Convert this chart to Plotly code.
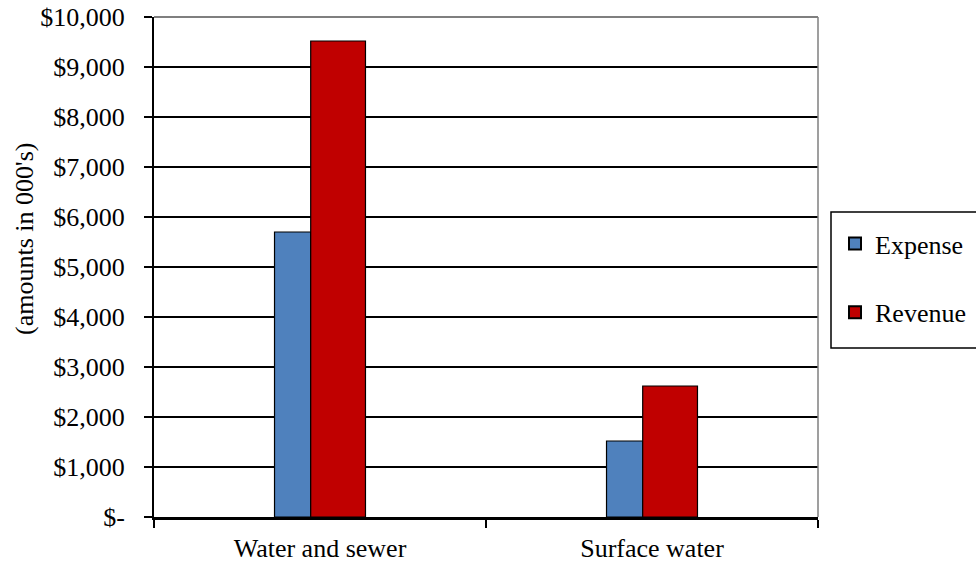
import plotly.graph_objects as go

categories = ["Water and sewer", "Surface water"]
expense = [5700, 1520]
revenue = [9520, 2620]
tick_vals = [0, 1000, 2000, 3000, 4000, 5000, 6000, 7000, 8000, 9000, 10000]
tick_text = ["$-", "$1,000", "$2,000", "$3,000", "$4,000", "$5,000",
             "$6,000", "$7,000", "$8,000", "$9,000", "$10,000"]
y_title = "(amounts in 000's)"

FONT = "Liberation Serif, Times New Roman, serif"
FS = 26

fig = go.Figure()
fig.add_trace(go.Bar(
    x=categories, y=expense, name="Expense",
    marker=dict(color="#4F81BD", line=dict(color="black", width=1.2)),
    width=0.109, offset=-0.137, legendgroup="e",
))
fig.add_trace(go.Bar(
    x=categories, y=revenue, name="Revenue",
    marker=dict(color="#C00000", line=dict(color="black", width=1.2)),
    width=0.165, offset=-0.028, legendgroup="r",
))

W, H = 976, 563
L, T, PW, PH = 154, 17, 664, 500


def px(xs):
    return (xs - L) / PW


def py(ys):
    return (T + PH - ys) / PH


fig.update_layout(
    width=W, height=H,
    margin=dict(l=L, r=W - L - PW, t=T, b=H - T - PH, autoexpand=False),
    paper_bgcolor="white", plot_bgcolor="white",
    font=dict(family=FONT, size=FS, color="black"),
    barmode="overlay",
    showlegend=True,
    legend=dict(
        x=px(835), y=py(220), xanchor="left", yanchor="top",
        borderwidth=0, bgcolor="rgba(0,0,0,0)",
        font=dict(family=FONT, size=FS, color="black"),
        tracegroupgap=32, itemsizing="constant",
        entrywidth=130, itemwidth=30,
    ),
    xaxis=dict(
        automargin=False,
        showline=True, linecolor="black", linewidth=2.5,
        ticks="outside", tickson="boundaries", ticklen=8, tickcolor="black", tickwidth=1.5,
        showgrid=False, ticklabelstandoff=6,
        tickfont=dict(family=FONT, size=FS),
    ),
    yaxis=dict(
        automargin=False,
        range=[0, 10000], tickvals=tick_vals, ticktext=tick_text,
        showline=True, linecolor="black", linewidth=2,
        ticks="outside", ticklen=8, tickcolor="black", tickwidth=1.5,
        showgrid=True, gridcolor="black", gridwidth=1.5,
        zeroline=False, ticklabelstandoff=14, ticklabeloverflow="allow",
        tickfont=dict(family=FONT, size=FS),
    ),
    annotations=[dict(
        text=y_title, textangle=-90, showarrow=False,
        xref="paper", yref="paper",
        x=px(25), y=py(239),
        xanchor="center", yanchor="middle",
        font=dict(family=FONT, size=FS, color="black"),
    )],
)
# gray top/right border of plot area
fig.add_shape(type="line", xref="paper", yref="paper", x0=0, x1=1, y0=1, y1=1,
              line=dict(color="#7f7f7f", width=2), layer="above")
fig.add_shape(type="line", xref="paper", yref="paper", x0=1, x1=1, y0=0, y1=1,
              line=dict(color="#7f7f7f", width=1.5), layer="above")
# legend frame
fig.add_shape(type="rect", xref="paper", yref="paper",
              x0=px(831), x1=px(980), y0=py(348), y1=py(212),
              line=dict(color="black", width=1.5), fillcolor="rgba(0,0,0,0)")

fig.write_html("out.html", config={"displayModeBar": False},
               post_script="document.body.style.margin='0';")
